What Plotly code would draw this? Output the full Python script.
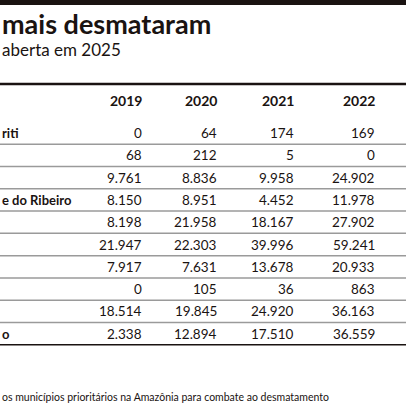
import plotly.graph_objects as go

title = "mais desmataram"
subtitle = "aberta em 2025"
footnote = "os municípios prioritários na Amazônia para combate ao desmatamento"
years = ["2019", "2020", "2021", "2022"]
names = ["riti", "", "", "e do Ribeiro", "", "", "", "", "", "o"]
v2019 = ["0", "68", "9.761", "8.150", "8.198", "21.947", "7.917", "0", "18.514", "2.338"]
v2020 = ["64", "212", "8.836", "8.951", "21.958", "22.303", "7.631", "105", "19.845", "12.894"]
v2021 = ["174", "5", "9.958", "4.452", "18.167", "39.996", "13.678", "36", "24.920", "17.510"]
v2022 = ["169", "0", "24.902", "11.978", "27.902", "59.241", "20.933", "863", "36.163", "36.559"]

col_x = [144, 219, 296, 377]
row0, dy = 133, 22.3
ink = "#1a1311"
ann = []
shapes = []
shapes.append(dict(type="rect", x0=0, x1=406, y0=0, y1=5, fillcolor=ink, line_width=0))
ann.append(dict(x=0, y=23, text="<b>" + title + "</b>", xanchor="left", yanchor="middle",
                font=dict(family="Lato", size=27, color=ink)))
ann.append(dict(x=0, y=49, text=subtitle, xanchor="left", yanchor="middle",
                font=dict(family="Lato", size=17, color=ink)))
shapes.append(dict(type="line", x0=0, x1=406, y0=84, y1=84, line=dict(color=ink, width=2.5)))
for cx, yr in zip(col_x, years):
    ann.append(dict(x=cx, y=100, text="<b>" + yr + "</b>", xanchor="right", yanchor="middle",
                    font=dict(family="Lato", size=14, color=ink)))
cols = [v2019, v2020, v2021, v2022]
for i in range(len(names)):
    y = row0 + i * dy
    if names[i]:
        ann.append(dict(x=0, y=y, text="<b>" + names[i] + "</b>", xanchor="left", yanchor="middle",
                        font=dict(family="Lato", size=13, color=ink)))
    for cx, col in zip(col_x, cols):
        ann.append(dict(x=cx, y=y, text=col[i], xanchor="right", yanchor="middle",
                        font=dict(family="Lato", size=13.5, color=ink)))
    ly = y + dy / 2
    last = i == len(names) - 1
    shapes.append(dict(type="line", x0=0, x1=406, y0=ly, y1=ly,
                       line=dict(color=ink if last else "#9a9a9a", width=1.5)))
ann.append(dict(x=0, y=397, text=footnote, xanchor="left", yanchor="middle",
                font=dict(family="Lato", size=10.5, color=ink)))
for a in ann:
    a.update(xref="x", yref="y", showarrow=False)

fig = go.Figure()
fig.update_layout(width=406, height=406, margin=dict(l=0, r=0, t=0, b=0),
                  paper_bgcolor="white", plot_bgcolor="white",
                  xaxis=dict(range=[0, 406], visible=False, fixedrange=True),
                  yaxis=dict(range=[406, 0], visible=False, fixedrange=True),
                  annotations=ann, shapes=shapes, showlegend=False)
fig.write_html("out.html", config={"displayModeBar": False},
               post_script="document.body.style.margin='0';document.body.style.overflow='hidden';")
